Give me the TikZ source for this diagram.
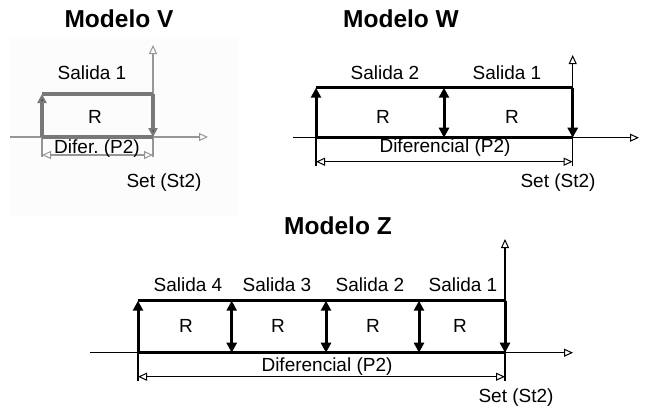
\documentclass[tikz,border=0pt]{standalone}
\usepackage{fontspec}
\setmainfont{Liberation Sans}
\usetikzlibrary{arrows.meta}
\definecolor{panelbg}{RGB}{252,252,252}
\definecolor{vline}{RGB}{120,120,120}
\definecolor{vaxis}{RGB}{150,150,150}
\tikzset{
  x=1pt, y=-1pt,
  title/.style={font=\fontsize{24.5}{27}\selectfont\bfseries, inner sep=0pt},
  lbl/.style={font=\fontsize{19}{21}\selectfont, inner sep=0pt},
  axis/.style={line width=1.2pt, -{Triangle[open,length=9pt,width=8pt,line width=1pt]}},
  thin/.style={line width=1.2pt},
  dim/.style={line width=1.2pt, {Triangle[open,length=9pt,width=8pt,line width=1pt]}-{Triangle[open,length=9pt,width=8pt,line width=1pt]}},
  band/.style={line width=3pt},
  up/.style={line width=3pt, -{Triangle[length=10pt,width=10pt]}},
  both/.style={line width=3pt, {Triangle[length=10pt,width=10pt]}-{Triangle[length=10pt,width=10pt]}},
}
\begin{document}
\begin{tikzpicture}
\useasboundingbox (0,0) rectangle (645,410);

% ---------- Modelo V ----------
\fill[panelbg] (10,37) rectangle (238,216);
\node[title] (tV) at (119,19) {Modelo V};
\coordinate (vBL) at (42,137);
\coordinate (vTL) at (42,94);
\coordinate (vTR) at (153,94);
\coordinate (vBR) at (153,137);
\coordinate (vAxL) at (10,137);
\coordinate (vAxR) at (208,137);
\coordinate (vAxT) at (153,45);
\coordinate (vAxB) at (153,157);
\coordinate (vDL) at (42,155);
\coordinate (vDR) at (153,155);
\coordinate (vEL) at (42,157);
\draw[axis, vaxis, line width=1.8pt] (vAxL) -- (vAxR);
\draw[axis, vaxis, line width=1.8pt] (vAxB) -- (vAxT);
\draw[thin, vaxis, line width=1.8pt] (vBL) -- (vEL);
\draw[dim, vaxis, line width=1.8pt] (vDL) -- (vDR);
\draw[band, vline, line width=3.6pt] (vBL) -- (vBR);
\draw[band, vline, line width=3.6pt] (vTL) -- (vTR);
\draw[up, vline, line width=3.6pt, arrows={-{Triangle[length=9pt,width=9pt,fill=black!85]}}] (vBL) -- (vTL);
\draw[up, vline, line width=3.6pt, arrows={-{Triangle[length=9pt,width=9pt,fill=black!85]}}] (vTR) -- (vBR);
\node[lbl] (vS1) at (92,73) {Salida 1};
\node[lbl] (vR) at (95,117) {R};
\node[lbl] (vDif) at (97,149) {Difer.\ (P2)};
\node[lbl] (vSet) at (164,183) {Set (St2)};

% ---------- Modelo W ----------
\node[title] (tW) at (401,19) {Modelo W};
\coordinate (wBL) at (316,137.7);
\coordinate (wTL) at (316,87.7);
\coordinate (wTM) at (444,87.7);
\coordinate (wBM) at (444,137.7);
\coordinate (wTR) at (572.7,87.7);
\coordinate (wBR) at (572.7,137.7);
\coordinate (wAxL) at (293,137.7);
\coordinate (wAxR) at (639,137.7);
\coordinate (wAxT) at (572.7,55);
\coordinate (wAxB) at (572.7,166);
\coordinate (wEL) at (316,166);
\coordinate (wDL) at (316,161.7);
\coordinate (wDR) at (572.7,161.7);
\draw[axis] (wAxL) -- (wAxR);
\draw[axis] (wAxB) -- (wAxT);
\draw[thin] (wBL) -- (wEL);
\draw[dim] (wDL) -- (wDR);
\draw[band] (wBL) -- (wBR);
\draw[band] (wTL) -- (wTR);
\draw[up] (wBL) -- (wTL);
\draw[both] (wTM) -- (wBM);
\draw[up] (wTR) -- (wBR);
\node[lbl] (wS2) at (385,73) {Salida 2};
\node[lbl] (wS1) at (507,73) {Salida 1};
\node[lbl] (wR2) at (383,117) {R};
\node[lbl] (wR1) at (512,117) {R};
\node[lbl] (wDif) at (445,148) {Diferencial (P2)};
\node[lbl] (wSet) at (558,183) {Set (St2)};

% ---------- Modelo Z ----------
\node[title] (tZ) at (338,226) {Modelo Z};
\coordinate (zBL) at (138,352.7);
\coordinate (zTL) at (138,300.7);
\coordinate (zTR) at (505,300.7);
\coordinate (zBR) at (505,352.7);
\coordinate (zAxL) at (90,352.7);
\coordinate (zAxR) at (573,352.7);
\coordinate (zAxT) at (505,239);
\coordinate (zAxB) at (505,381);
\coordinate (zEL) at (138,381);
\coordinate (zDL) at (138,376.7);
\coordinate (zDR) at (505,376.7);
\draw[axis] (zAxL) -- (zAxR);
\draw[axis] (zAxB) -- (zAxT);
\draw[thin] (zBL) -- (zEL);
\draw[dim] (zDL) -- (zDR);
\draw[band] (zBL) -- (zBR);
\draw[band] (zTL) -- (zTR);
\draw[up] (zBL) -- (zTL);
\foreach \xx/\nm in {231.7/a, 326/b, 419/c}{
  \coordinate (zT\nm) at (\xx,300.7);
  \coordinate (zB\nm) at (\xx,352.7);
  \draw[both] (zT\nm) -- (zB\nm);
}
\draw[up] (zTR) -- (zBR);
\node[lbl] (zS4) at (188,285) {Salida 4};
\node[lbl] (zS3) at (277,285) {Salida 3};
\node[lbl] (zS2) at (370,285) {Salida 2};
\node[lbl] (zS1) at (463,285) {Salida 1};
\node[lbl] (zR4) at (186,326) {R};
\node[lbl] (zR3) at (278,326) {R};
\node[lbl] (zR2) at (373,326) {R};
\node[lbl] (zR1) at (460,326) {R};
\node[lbl] (zDif) at (327,367) {Diferencial (P2)};
\node[lbl] (zSet) at (516,398) {Set (St2)};
\end{tikzpicture}
\end{document}
